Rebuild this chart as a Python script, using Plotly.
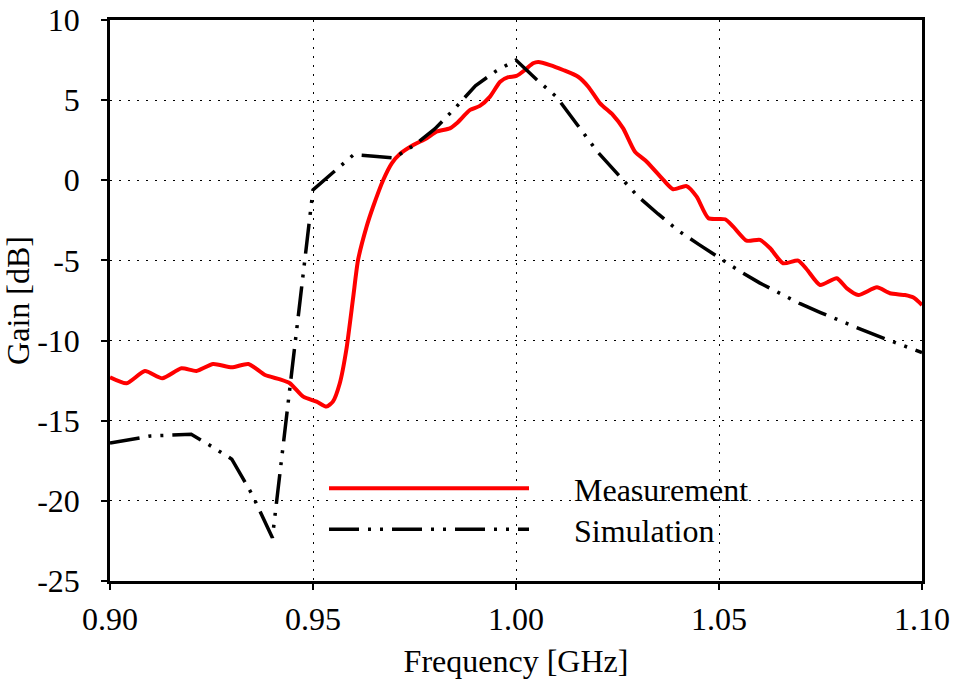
import plotly.graph_objects as go

# Measured gain (GHz, dB)
meas_freq = [0.9000, 0.9041, 0.9086, 0.9129, 0.9176, 0.9213, 0.9254, 0.9300, 0.9341, 0.9382,
             0.9419, 0.9443, 0.9476, 0.9509, 0.9533, 0.9549, 0.9566, 0.9582, 0.9599, 0.9611,
             0.9632, 0.9648, 0.9673, 0.9694, 0.9714, 0.9747, 0.9780, 0.9804, 0.9837, 0.9854,
             0.9887, 0.9911, 0.9936, 0.9961, 0.9981, 1.0001, 1.0022, 1.0042, 1.0055, 1.0084,
             1.0116, 1.0153, 1.0178, 1.0207, 1.0239, 1.0264, 1.0293, 1.0322, 1.0363, 1.0387,
             1.0420, 1.0445, 1.0474, 1.0515, 1.0535, 1.0568, 1.0601, 1.0626, 1.0658, 1.0695,
             1.0716, 1.0749, 1.0790, 1.0815, 1.0843, 1.0889, 1.0921, 1.0958, 1.0979, 1.1000]
meas_gain = [-12.29, -12.66, -11.90, -12.35, -11.73, -11.90, -11.46, -11.67, -11.46, -12.15,
             -12.42, -12.66, -13.50, -13.81, -14.12, -13.81, -12.66, -10.59, -7.30, -4.97,
             -2.89, -1.65, 0.02, 1.06, 1.64, 2.20, 2.62, 3.03, 3.24, 3.56,
             4.39, 4.64, 5.22, 6.15, 6.43, 6.51, 6.88, 7.30, 7.38, 7.19,
             6.88, 6.46, 5.84, 4.80, 4.07, 3.24, 1.78, 1.16, 0.02, -0.56,
             -0.36, -1.02, -2.37, -2.43, -2.89, -3.77, -3.72, -4.24, -5.18, -5.01,
             -5.55, -6.53, -6.11, -6.74, -7.16, -6.68, -7.05, -7.16, -7.32, -7.78]

# Simulated gain (GHz, dB)
sim_freq = [0.900, 0.905, 0.910, 0.915, 0.920, 0.925, 0.930, 0.935, 0.940, 0.945,
            0.950, 0.955, 0.960, 0.965, 0.970, 0.975, 0.980, 0.985, 0.990, 0.995,
            1.000, 1.005, 1.010, 1.015, 1.020, 1.025, 1.030, 1.035, 1.040, 1.045,
            1.050, 1.055, 1.060, 1.065, 1.070, 1.075, 1.080, 1.085, 1.090, 1.095, 1.100]
sim_gain = [-16.40, -16.15, -15.95, -15.90, -15.85, -16.60, -17.40, -19.60, -22.30, -11.45,
            -0.60, 0.50, 1.60, 1.50, 1.40, 2.20, 3.20, 4.50, 5.90, 6.80,
            7.50, 6.30, 5.20, 3.50, 1.80, 0.40, -1.00, -2.10, -3.15, -4.00,
            -4.85, -5.65, -6.40, -7.05, -7.70, -8.25, -8.80, -9.30, -9.80, -10.30, -10.75]

x_ticks = [0.90, 0.95, 1.00, 1.05, 1.10]
x_labels = ["0.90", "0.95", "1.00", "1.05", "1.10"]
y_ticks = [-25, -20, -15, -10, -5, 0, 5, 10]
y_labels = ["-25", "-20", "-15", "-10", "-5", "0", "5", "10"]

FONT = "Liberation Serif"
FS = 32
NBSP = "\u00a0"

# plot-area geometry in pixels, used to place the legends
L, R, T, B = 110, 922, 20, 581
W, H = R - L, B - T


def px_x(x):
    return (x - L) / W


def px_y(y):
    return (B - y) / H


fig = go.Figure()
fig.add_trace(go.Scatter(
    x=meas_freq, y=meas_gain, mode="lines", name=NBSP * 5 + "Measurement",
    line=dict(color="#ff0000", width=4, shape="spline", smoothing=0.6),
    legend="legend", showlegend=True,
))
fig.add_trace(go.Scatter(
    x=sim_freq, y=sim_gain, mode="lines", name=NBSP * 5 + "Simulation",
    line=dict(color="black", width=3.5, dash="30px,9px,3px,9px,3px,9px"),
    legend="legend2", showlegend=True,
))

axis_common = dict(
    showline=True, linecolor="black", linewidth=2.5, mirror=True,
    ticks="outside", ticklen=6, tickwidth=2, tickcolor="black",
    showgrid=True, gridcolor="black", gridwidth=1.2, griddash="2px,7px",
    zeroline=False, automargin=False,
    tickfont=dict(family=FONT, size=FS, color="black"),
)

fig.update_xaxes(
    range=[0.90, 1.10], tickvals=x_ticks, ticktext=x_labels,
    ticklabelstandoff=2,
    title=dict(text="Frequency [GHz]", font=dict(family=FONT, size=FS, color="black"), standoff=16),
    **axis_common,
)
fig.update_yaxes(
    range=[-25, 10], tickvals=y_ticks, ticktext=y_labels,
    ticklabelstandoff=15,
    title=dict(text="Gain [dB]", font=dict(family=FONT, size=FS, color="black"), standoff=0),
    **axis_common,
)

# white panel behind the legend, hiding the grid there
fig.add_shape(type="rect", xref="paper", yref="paper",
              x0=px_x(305), x1=px_x(784), y0=0, y1=px_y(445),
              fillcolor="white", line=dict(width=0), layer="between")

legend_style = dict(
    xanchor="left", yanchor="top", bgcolor="rgba(0,0,0,0)", itemwidth=200,
    font=dict(family=FONT, size=FS, color="black"),
)

fig.update_layout(
    width=953, height=679,
    margin=dict(l=L, r=953 - R, t=T, b=679 - B),
    paper_bgcolor="white", plot_bgcolor="white",
    font=dict(family=FONT, color="black"),
    showlegend=True,
    legend=dict(x=px_x(324), y=px_y(461), **legend_style),
    legend2=dict(x=px_x(324), y=px_y(502), **legend_style),
)

fig.write_html("out.html")
